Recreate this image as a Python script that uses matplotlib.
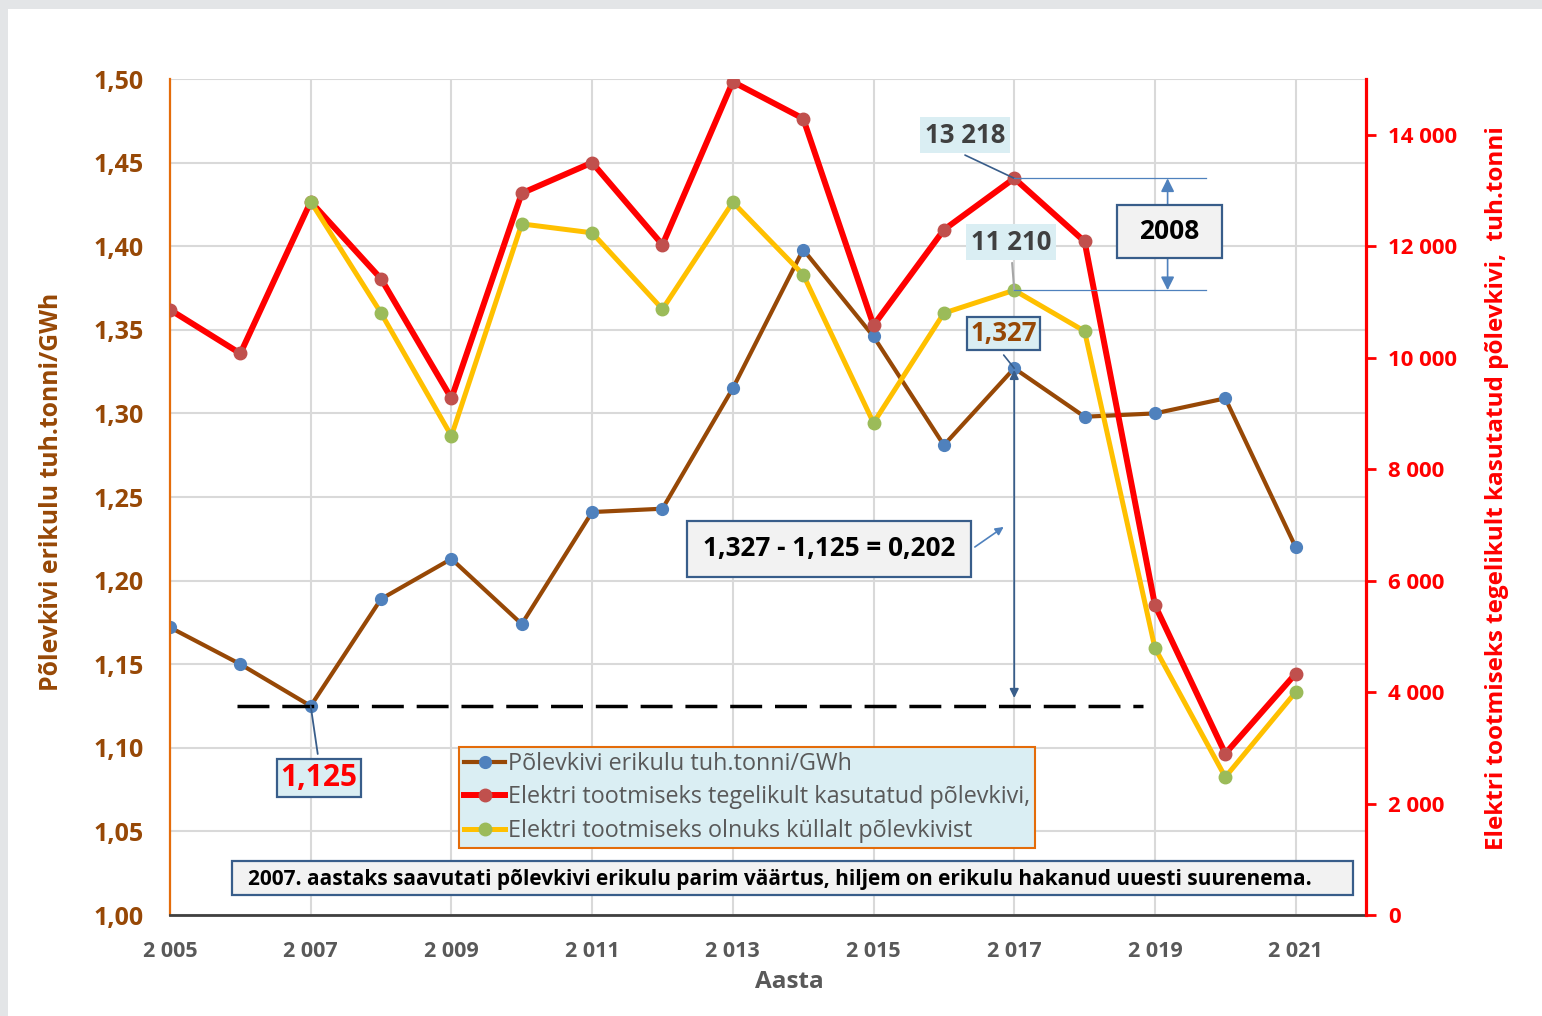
import matplotlib.pyplot as plt
from matplotlib.patches import Rectangle
from matplotlib.ticker import FuncFormatter

plt.rcParams['font.family'] = ['Open Sans', 'DejaVu Sans']
plt.rcParams['font.weight'] = 'bold'

# andmed
aastad = list(range(2005, 2022))
erikulu = [1.172, 1.150, 1.125, 1.189, 1.213, 1.174, 1.241, 1.243, 1.315,
           1.398, 1.346, 1.281, 1.327, 1.298, 1.300, 1.309, 1.220]
tegelik = [10860, 10075, 12800, 11415, 9270, 12950, 13500, 12025, 14950,
           14290, 10580, 12295, 13218, 12085, 5560, 2895, 4330]
aastad_vaja = list(range(2007, 2022))
vaja = [12800, 10800, 8595, 12400, 12240, 10870, 12790, 11490, 8830,
        10800, 11210, 10475, 4790, 2475, 4000]

nimed = ['Põlevkivi erikulu tuh.tonni/GWh',
         'Elektri tootmiseks tegelikult kasutatud põlevkivi,',
         'Elektri tootmiseks olnuks küllalt põlevkivist']

fig = plt.figure(figsize=(15.42, 10.16), dpi=100, facecolor='#E3E5E7')
fig.add_artist(Rectangle((8 / 1542, 0), 1, 1 - 9 / 1016, transform=fig.transFigure,
                         facecolor='white', edgecolor='none', zorder=-5))

ax = fig.add_axes([170 / 1542, 1 - 915 / 1016, 1196 / 1542, 836 / 1016])
ax2 = ax.twinx()

ax.set_xlim(2005, 2022)
ax.set_ylim(1.0, 1.5)
ax2.set_ylim(0, 15000)

ax.set_xticks(range(2005, 2022, 2))
ax.set_yticks([1 + 0.05 * i for i in range(11)])
ax2.set_yticks(range(0, 15000, 2000))
ax.xaxis.set_major_formatter(FuncFormatter(lambda v, p: f'{int(v):,}'.replace(',', ' ')))
ax.yaxis.set_major_formatter(FuncFormatter(lambda v, p: f'{v:.2f}'.replace('.', ',')))
ax2.yaxis.set_major_formatter(FuncFormatter(lambda v, p: f'{int(v):,}'.replace(',', ' ')))

ax.grid(True, color='#D9D9D9', lw=1.5)
ax.set_axisbelow(True)

ax.tick_params(axis='x', length=0, pad=19, labelsize=15.5, labelcolor='#595959')
ax.tick_params(axis='y', length=0, pad=19, labelsize=18, labelcolor='#974806')
ax2.tick_params(axis='y', length=7, width=2, color='red', pad=9, labelsize=16, labelcolor='red')

for s in ['top', 'right']:
    ax.spines[s].set_visible(False)
for s in ['top', 'left', 'bottom']:
    ax2.spines[s].set_visible(False)
ax.spines['left'].set_color('#E46C0A')
ax.spines['left'].set_linewidth(1.6)
ax.spines['bottom'].set_color('#404040')
ax.spines['bottom'].set_linewidth(2)
ax2.spines['right'].set_color('red')
ax2.spines['right'].set_linewidth(2.3)

# jooned
l1, = ax.plot(aastad, erikulu, color='#974806', lw=3, marker='o', ms=8.5,
              mfc='#4F81BD', mec='#4F81BD', label=nimed[0])
l2, = ax2.plot(aastad, tegelik, color='#FF0000', lw=4.3, marker='o', ms=9,
               mfc='#C0504D', mec='#C0504D', label=nimed[1])
l3, = ax2.plot(aastad_vaja, vaja, color='#FFC000', lw=3.6, marker='o', ms=9,
               mfc='#9BBB59', mec='#9BBB59', label=nimed[2])

serv = '#385D8A'
helesinine = '#DAEEF3'
i17 = aastad.index(2017)
j17 = aastad_vaja.index(2017)
i07 = aastad.index(2007)
miinimum = erikulu[i07]

# kriipsjoon miinimumi tasemel
ax2.plot([2005.95, 2018.83], [miinimum, miinimum], transform=ax.transData,
         color='black', lw=2.5, dashes=(9.2, 3.7), zorder=3)

# 2017 väärtuste sildid
ax2.annotate('', xy=(2017, tegelik[i17]), xytext=(2016.30, 1.4545), textcoords=ax.transData,
             arrowprops=dict(arrowstyle='-', color=serv, lw=1.2, shrinkA=0, shrinkB=0))
ax2.text(2016.30, 1.4665, f'{tegelik[i17]:,}'.replace(',', ' '), transform=ax.transData,
         ha='center', va='center', fontsize=18.5, color='#404040', zorder=6,
         bbox=dict(boxstyle='square,pad=0.18', fc=helesinine, ec='none'))

ax2.annotate('', xy=(2017, vaja[j17]), xytext=(2016.97, 1.390), textcoords=ax.transData,
             arrowprops=dict(arrowstyle='-', color='#A6A6A6', lw=1.5, shrinkA=0, shrinkB=0))
ax2.text(2016.95, 1.4025, f'{vaja[j17]:,}'.replace(',', ' '), transform=ax.transData,
         ha='center', va='center', fontsize=18.5, color='#404040', zorder=6,
         bbox=dict(boxstyle='square,pad=0.18', fc=helesinine, ec='none'))

# vahe 2008
for v in (tegelik[i17], vaja[j17]):
    ax2.plot([2017, 2019.72], [v, v], color='#4F81BD', lw=0.9, zorder=4)
ax2.annotate('', xy=(2019.18, tegelik[i17]), xytext=(2019.18, vaja[j17]),
             arrowprops=dict(arrowstyle='<|-|>', color='#4F81BD', lw=1.2,
                             shrinkA=0, shrinkB=0, mutation_scale=20), zorder=4)
ax2.add_patch(Rectangle((2018.456, 1.3929), 1.492, 0.0317, transform=ax.transData,
                        fc='#F2F2F2', ec=serv, lw=1.6, zorder=5))
ax2.text(2019.2, 1.4087, f'{tegelik[i17] - vaja[j17]}', transform=ax.transData,
         ha='center', va='center', fontsize=19, color='black', zorder=6)

# 1,327 silt ja nool miinimumini
ax2.annotate('', xy=(2017, erikulu[i17]), xytext=(2016.85, 1.3349), xycoords=ax.transData,
             textcoords=ax.transData,
             arrowprops=dict(arrowstyle='-', color=serv, lw=1.2, shrinkA=0, shrinkB=0))
ax2.text(2016.85, 1.348, f'{erikulu[i17]:.3f}'.replace('.', ','), transform=ax.transData,
         ha='center', va='center', fontsize=18.5, color='#974806', zorder=6,
         bbox=dict(boxstyle='square,pad=0.12', fc=helesinine, ec=serv, lw=1.6))
ax2.annotate('', xy=(2017, erikulu[i17] - 0.001), xytext=(2017, 1.1298), xycoords=ax.transData,
             textcoords=ax.transData,
             arrowprops=dict(arrowstyle='<|-|>', color=serv, lw=1.3,
                             shrinkA=0, shrinkB=0, mutation_scale=13), zorder=5)

vahe = erikulu[i17] - miinimum
valem = (f'{erikulu[i17]:.3f} - {miinimum:.3f} = {vahe:.3f}').replace('.', ',')
ax2.add_patch(Rectangle((2012.346, 1.2022), 4.036, 0.0334, transform=ax.transData,
                        fc='#F2F2F2', ec=serv, lw=1.6, zorder=5))
ax2.text(2014.364, 1.2189, valem, transform=ax.transData,
         ha='center', va='center', fontsize=18.8, color='black', zorder=6)
ax2.annotate('', xy=(2016.85, 1.2321), xytext=(2016.44, 1.2201), xycoords=ax.transData,
             textcoords=ax.transData,
             arrowprops=dict(arrowstyle='-|>', color='#4F81BD', lw=1.2,
                             shrinkA=0, shrinkB=0, mutation_scale=12), zorder=5)

# 1,125 silt
ax2.annotate('', xy=(2007, miinimum), xytext=(2007.10, 1.0963), xycoords=ax.transData,
             textcoords=ax.transData,
             arrowprops=dict(arrowstyle='-', color=serv, lw=1.3, shrinkA=0, shrinkB=0))
ax2.text(2007.117, 1.0819, f'{miinimum:.3f}'.replace('.', ','), transform=ax.transData,
         ha='center', va='center', fontsize=21.5, color='#FF0000', zorder=6,
         bbox=dict(boxstyle='square,pad=0.12', fc=helesinine, ec=serv, lw=1.6))

# legend
leg = ax2.legend([l1, l2, l3], nimed, loc='upper left', bbox_to_anchor=(0.2416, 0.201),
                 bbox_transform=ax.transAxes, borderaxespad=0, fancybox=False,
                 framealpha=1, facecolor=helesinine, edgecolor='#E46C0A',
                 prop=dict(size=16.8, weight='normal'), handlelength=1.75,
                 handletextpad=0.12, labelspacing=0.4, borderpad=0.22)
leg.get_frame().set_linewidth(1.5)
for t in leg.get_texts():
    t.set_color('#595959')
leg.set_zorder(7)

# selgitav tekst all
ax2.add_patch(Rectangle((2005.881, 1.01196), 15.929, 0.02034, transform=ax.transData,
                        fc='#F2F2F2', ec=serv, lw=1.6, zorder=5))
ax2.text(2006.108, 1.021, '2007. aastaks saavutati põlevkivi erikulu parim väärtus, '
         'hiljem on erikulu hakanud uuesti suurenema.', transform=ax.transData,
         ha='left', va='center', fontsize=15, color='black', zorder=6)

# telgede pealkirjad
fig.text(52 / 1542, 1 - 492 / 1016, 'Põlevkivi erikulu tuh.tonni/GWh', rotation=90,
         ha='center', va='center', fontsize=17.8, color='#974806')
fig.text(1497 / 1542, 1 - 488 / 1016, 'Elektri tootmiseks tegelikult kasutatud põlevkivi,  tuh.tonni',
         rotation=90, ha='center', va='center', fontsize=17.5, color='red')
fig.text(789 / 1542, 1 - 982 / 1016, 'Aasta', ha='center', va='center',
         fontsize=17.5, color='#595959')

fig.savefig('out.png', dpi=100, facecolor=fig.get_facecolor())
